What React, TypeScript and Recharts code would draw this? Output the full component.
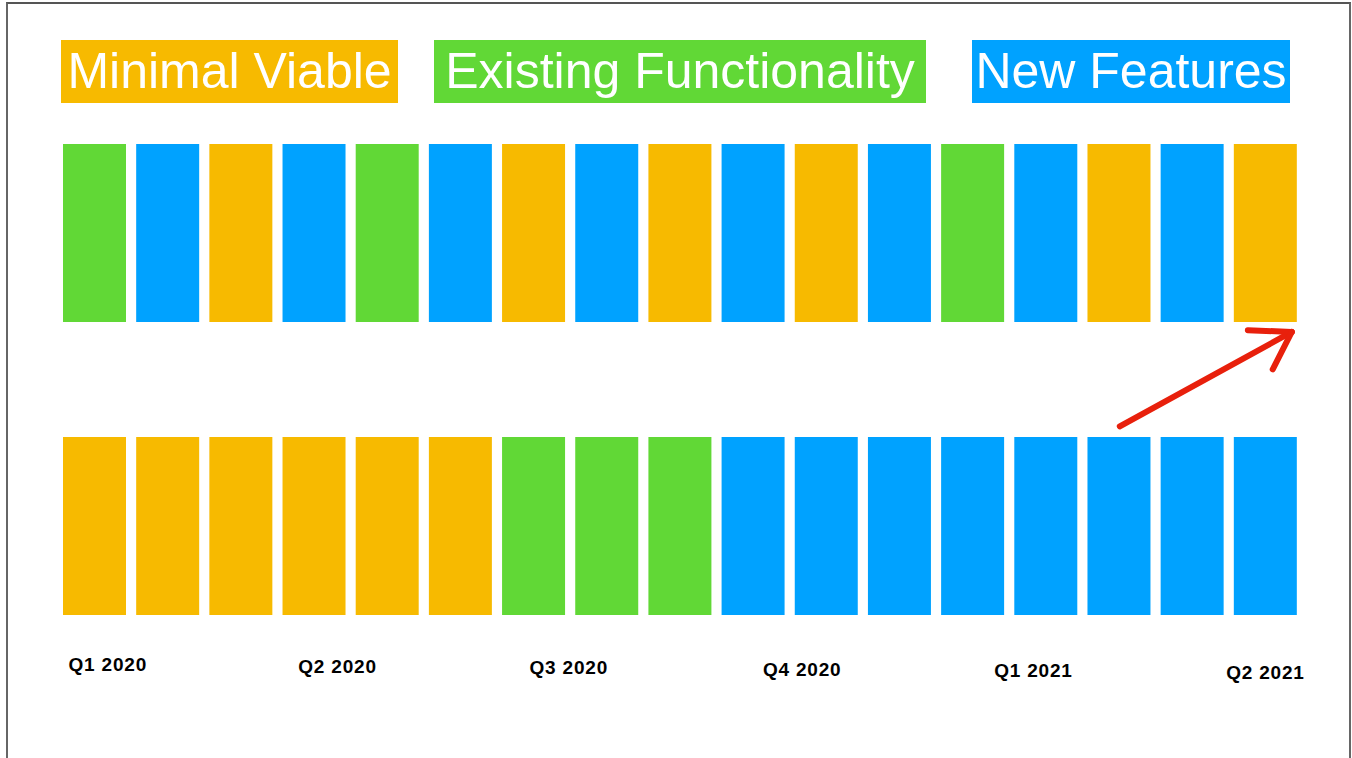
import { BarChart, Bar, Cell, XAxis, YAxis, Legend, ReferenceLine } from 'recharts'

const COLORS: Record<string, string> = {
  minimal: '#F7BA00',
  existing: '#61D836',
  new: '#00A2FF',
}

const legendItems = [
  { key: 'minimal', label: 'Minimal Viable' },
  { key: 'existing', label: 'Existing Functionality' },
  { key: 'new', label: 'New Features' },
]

// one slot per iteration, 17 in total
const slots = [0, 1, 2, 3, 4, 5, 6, 7, 8, 9, 10, 11, 12, 13, 14, 15, 16]

// top row: interleaved work
const interleaved = [
  'existing', 'new', 'minimal', 'new', 'existing', 'new', 'minimal', 'new', 'minimal',
  'new', 'minimal', 'new', 'existing', 'new', 'minimal', 'new', 'minimal',
]

// bottom row: sequential work
const sequential = [
  'minimal', 'minimal', 'minimal', 'minimal', 'minimal', 'minimal',
  'existing', 'existing', 'existing',
  'new', 'new', 'new', 'new', 'new', 'new', 'new', 'new',
]

const quarterTicks = [0.18, 3.32, 6.48, 9.67, 12.83, 16.0]
const quarterLabels = ['Q1 2020', 'Q2 2020', 'Q3 2020', 'Q4 2020', 'Q1 2021', 'Q2 2021']

// hand drawn arrow, in slot / row units
const arrowStrokes = [
  [{ x: 14.01, y: 1.06 }, { x: 16.36, y: 1.59 }],
  [{ x: 15.76, y: 1.6 }, { x: 16.36, y: 1.59 }],
  [{ x: 16.1, y: 1.38 }, { x: 16.36, y: 1.59 }],
]

const rowHeight = 1
const rowGap = 0.646

const data = slots.map((s) => ({ slot: s, bottom: rowHeight, gap: rowGap, top: rowHeight }))

const FONT = '"Liberation Sans", Arial, Helvetica, sans-serif'

const legendBoxes: Record<string, { left: number; width: number }> = {
  minimal: { left: 61, width: 337 },
  existing: { left: 434, width: 492 },
  new: { left: 972, width: 318 },
}

function LegendBoxes() {
  return (
    <div style={{ position: 'relative', width: 1352, height: 130 }}>
      {legendItems.map((it) => (
        <div
          key={it.key}
          style={{
            position: 'absolute',
            top: 40,
            left: legendBoxes[it.key].left,
            width: legendBoxes[it.key].width,
            height: 63,
            lineHeight: '63px',
            background: COLORS[it.key],
            color: '#fff',
            fontFamily: FONT,
            fontSize: 50,
            textAlign: 'center',
            whiteSpace: 'nowrap',
          }}
        >
          {it.label}
        </div>
      ))}
    </div>
  )
}

function QuarterTick(props: any) {
  const { x, y, payload, index } = props
  return (
    <text
      x={x}
      y={y + 48 + index * 1.6}
      textAnchor="middle"
      fontFamily={FONT}
      fontWeight="bold"
      fontSize={19}
      letterSpacing={0.8}
      fill="#000"
    >
      {quarterLabels[quarterTicks.indexOf(payload.value)]}
    </text>
  )
}

export default function App() {
  return (
    <div style={{ position: 'absolute', left: 0, top: 0, width: 1352, height: 758, background: '#fff', overflow: 'hidden' }}>
      <div
        style={{
          position: 'absolute',
          left: 6,
          top: 2,
          width: 1345,
          height: 756,
          borderTop: '2px solid #555',
          borderLeft: '2px solid #666',
          borderRight: '2px solid #666',
          boxSizing: 'border-box',
        }}
      />
      <div style={{ position: 'absolute', left: 0, top: 0 }}>
        <BarChart width={1352} height={758} data={data} margin={{ top: 144, right: 50, left: 58, bottom: 83 }}>
          <XAxis
            dataKey="slot"
            type="number"
            domain={[-0.5, 16.5]}
            ticks={quarterTicks}
            interval={0}
            axisLine={false}
            tickLine={false}
            height={60}
            tick={<QuarterTick />}
          />
          <YAxis hide domain={[0, rowHeight * 2 + rowGap]} />
          <Legend
            verticalAlign="middle"
            align="center"
            content={() => <LegendBoxes />}
            wrapperStyle={{ top: 0, left: 0, width: 1352, height: 130 }}
          />
          <Bar dataKey="bottom" stackId="rows" barSize={63} isAnimationActive={false}>
            {sequential.map((k, i) => (
              <Cell key={i} fill={COLORS[k]} />
            ))}
          </Bar>
          <Bar dataKey="gap" stackId="rows" barSize={63} fill="transparent" isAnimationActive={false} />
          <Bar dataKey="top" stackId="rows" barSize={63} isAnimationActive={false}>
            {interleaved.map((k, i) => (
              <Cell key={i} fill={COLORS[k]} />
            ))}
          </Bar>
          {arrowStrokes.map((seg, i) => (
            <ReferenceLine
              key={i}
              segment={seg}
              stroke="#E8200C"
              strokeWidth={6}
              strokeLinecap="round"
              ifOverflow="visible"
            />
          ))}
        </BarChart>
      </div>
    </div>
  )
}
